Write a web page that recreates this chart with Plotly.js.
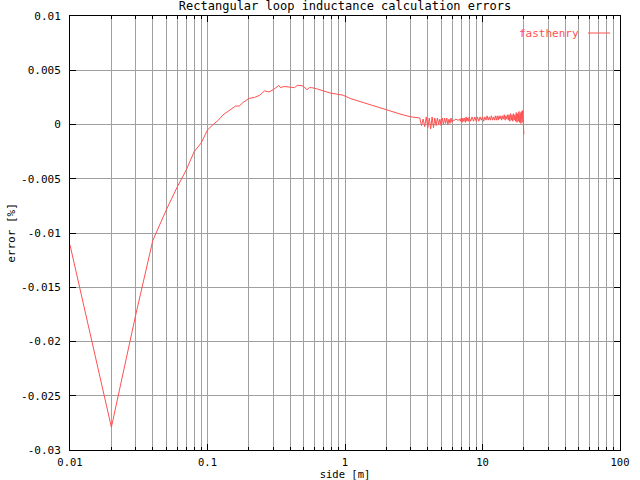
<!DOCTYPE html>
<html>
<head>
<meta charset="utf-8">
<script src="https://cdn.plot.ly/plotly-3.0.1.min.js"></script>
<style>html,body{margin:0;padding:0;background:#fff}#chart{width:640px;height:480px}</style>
</head>
<body>
<div id="chart"></div>
<script>
// side [m] and relative error, smooth part
var sideSmooth = [0.01, 0.02, 0.03, 0.04, 0.05, 0.06, 0.07, 0.08, 0.09, 0.10,
  0.11, 0.12, 0.13, 0.14, 0.15, 0.16, 0.17, 0.18, 0.20, 0.22, 0.24, 0.26, 0.28,
  0.30, 0.33, 0.34, 0.36, 0.40, 0.43, 0.45, 0.48, 0.50, 0.53, 0.55, 0.57, 0.62,
  0.70, 0.78, 0.87, 0.97, 1.09, 1.29, 1.52, 1.80, 2.13, 2.51, 2.97, 3.3];
var errSmooth = [-0.0111, -0.0279, -0.0176, -0.0107, -0.0079, -0.0058, -0.0042, -0.0025, -0.0017, -0.0005,
  0.0000, 0.0004, 0.0009, 0.0012, 0.0014, 0.0017, 0.0017, 0.0020, 0.0024, 0.0025, 0.0027, 0.0031, 0.0030,
  0.0032, 0.0036, 0.0034, 0.0035, 0.0034, 0.0034, 0.0036, 0.0036, 0.0035, 0.0032, 0.0034, 0.0034, 0.0033,
  0.0031, 0.0029, 0.0028, 0.0027, 0.0024, 0.0021, 0.0018, 0.0015, 0.0012, 0.00097, 0.00072, 0.0006];
// noisy part
var sideNoisy = [3.5,3.6,3.7,3.8,3.9,4.0,4.1,4.2,4.3,4.4,4.5,4.6,4.7,4.8,4.9,5.0,5.1,5.2,5.3,5.4,
  5.5,5.6,5.7,5.8,5.9,6.0,6.1,6.2,6.3,6.4,6.5,6.6,6.7,6.8,6.9,7.0,7.1,7.2,7.3,7.4,7.5,7.6,7.7,7.8,7.9,8.0,
  8.2,8.4,8.6,8.8,9.0,9.2,9.4,9.6,9.8,10.0,10.2,10.4,10.6,10.8,11.0,11.2,11.4,11.6,11.8,12.0,
  12.2,12.4,12.6,12.8,13.0,13.2,13.4,13.6,13.8,14.0,14.2,14.4,14.6,14.8,15.0,15.2,15.4,15.6,15.8,16.0,
  16.2,16.4,16.6,16.8,17.0,17.2,17.4,17.6,17.8,18.0,18.2,18.4,18.6,18.8,19.0,19.2,19.4,19.6,19.8,20.0];
var errNoisy = [0.0006,-0.0001,0.0005,-0.0002,0.0007,-0.0003,0.0006,-0.0004,0.0007,-0.0003,
  0.0006,-0.0001,0.0006,0.0000,0.0005,-0.0001,0.0006,0.0000,0.0006,0.0001,
  0.0006,0.0000,0.0005,0.0001,0.0006,0.0002,0.0004,0.0004,0.0004,0.0005,
  0.0004,0.0004,0.0004,0.0005,0.0003,0.0006,0.0002,0.0006,0.0003,0.0006,
  0.0002,0.0007,0.0003,0.0006,0.0003,0.0007,
  0.0003,0.0007,0.0003,0.0007,0.0003,0.0007,0.0003,0.0007,0.0004,0.0007,
  0.0003,0.0007,0.0004,0.0008,0.0004,0.0007,0.0004,0.0008,0.0004,0.0007,
  0.0004,0.0008,0.0004,0.0008,0.0004,0.0008,0.0005,0.0008,0.0004,0.0008,
  0.0005,0.0009,0.0004,0.0008,0.0005,0.0009,0.0004,0.0009,0.0003,0.0010,
  0.0004,0.0009,0.0003,0.0010,0.0004,0.0009,0.0003,0.0011,0.0002,0.0010,
  0.0003,0.0012,0.0002,0.0011,0.0001,0.0012,0.0002,0.0013,0.0001,-0.0009];

var xMajorTicks = [0.01, 0.1, 1, 10, 100];
var xMajorLabels = ['0.01', '0.1', '1', '10', '100'];
var xMinorTicks = [0.02,0.03,0.04,0.05,0.06,0.07,0.08,0.09,
  0.2,0.3,0.4,0.5,0.6,0.7,0.8,0.9, 2,3,4,5,6,7,8,9, 20,30,40,50,60,70,80,90];
var yTicks = [0.01, 0.005, 0, -0.005, -0.01, -0.015, -0.02, -0.025, -0.03];
var yLabels = ['0.01', '0.005', '0', '-0.005', '-0.01', '-0.015', '-0.02', '-0.025', '-0.03'];

var seriesName = 'fasthenry';
var red = '#ff5050';
var fam = 'DejaVu Sans Mono, monospace';
var font = {family: fam, size: 11, color: '#000'};
var xfont = {family: fam, size: 10.5, color: '#000'};

var trace = {
  x: sideSmooth.concat(sideNoisy),
  y: errSmooth.concat(errNoisy),
  type: 'scatter', mode: 'lines', name: seriesName,
  line: {color: red, width: 1},
  showlegend: false
};

var layout = {
  width: 640, height: 480,
  margin: {l: 70, r: 20, t: 16, b: 30},
  paper_bgcolor: '#fff', plot_bgcolor: '#fff',
  font: font,
  title: {text: 'Rectangular loop inductance calculation errors',
    font: {family: fam, size: 12, color: '#000'},
    x: 0.5, xref: 'paper', y: 1 - 6/480, yanchor: 'middle'},
  xaxis: {
    type: 'log', range: [-2, 2],
    tickmode: 'array', tickvals: xMajorTicks, ticktext: xMajorLabels,
    ticks: 'inside', ticklen: 6, tickcolor: '#000', tickwidth: 1,
    showgrid: true, gridcolor: '#a0a0a0', gridwidth: 1,
    showline: true, linecolor: '#000', linewidth: 1, mirror: 'allticks',
    zeroline: false, tickfont: xfont, ticklabelstandoff: 2,
    minor: {tickmode: 'array', tickvals: xMinorTicks, ticks: 'inside', ticklen: 3,
      tickcolor: '#000', showgrid: true, gridcolor: '#a0a0a0', gridwidth: 1},
    title: {text: 'side [m]', font: xfont, standoff: 0},
    automargin: false
  },
  yaxis: {
    range: [-0.03, 0.01],
    tickmode: 'array', tickvals: yTicks, ticktext: yLabels,
    ticks: 'inside', ticklen: 6, tickcolor: '#000', tickwidth: 1,
    showgrid: true, gridcolor: '#a0a0a0', gridwidth: 1,
    showline: true, linecolor: '#000', linewidth: 1, mirror: 'allticks',
    zeroline: false, tickfont: font, ticklabelstandoff: 6,
    title: {text: 'error [%]', font: font, standoff: 3},
    automargin: false
  },
  annotations: [{
    text: seriesName, xref: 'paper', yref: 'paper',
    x: (581 - 70) / 550, y: (450 - 33) / 434, xanchor: 'right', yanchor: 'middle',
    showarrow: false, font: {family: fam, size: 11, color: red}
  }],
  shapes: [{
    type: 'line', xref: 'paper', yref: 'paper',
    x0: (588 - 70) / 550, x1: (610 - 70) / 550,
    y0: (450 - 33) / 434, y1: (450 - 33) / 434,
    line: {color: red, width: 1}
  }]
};

Plotly.newPlot('chart', [trace], layout, {displayModeBar: false, staticPlot: true});
</script>
</body>
</html>
